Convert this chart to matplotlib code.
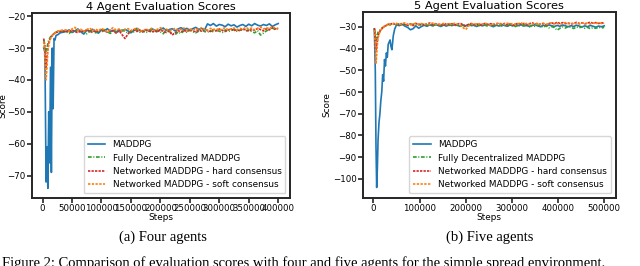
import numpy as np
import matplotlib
matplotlib.use("Agg")
import matplotlib.pyplot as plt

plt.rcParams['font.family'] = 'DejaVu Sans'
plt.rcParams['font.size'] = 6.4

labels = ['MADDPG', 'Fully Decentralized MADDPG',
          'Networked MADDPG - hard consensus', 'Networked MADDPG - soft consensus']
colors = ['#1f77b4', '#2ca02c', '#d62728', '#ff7f0e']
styles = ['-', (0, (2.2, 1.0, 0.6, 1.0)), (0, (1.4, 0.7)), (0, (1.4, 0.85))]

# ---------------- 4 agenter ----------------
steps4_early = [2000, 4000, 6000, 7500, 9000, 10500, 12000, 13500, 15000, 16500,
                18000, 19500, 21000, 23000, 26000, 30000, 35000]
steps4_late = list(range(40000, 400001, 5000))

maddpg4_early = [-30, -31, -72, -61, -74, -50, -66, -36, -69, -30, -49, -27, -27.5,
                 -26, -25.8, -25.2, -25.0]
decent4_early = [-27.5, -29, -31, -30, -28.5, -27.5, -27, -26.5, -26, -25.8, -25.5,
                 -25.5, -25.2, -25, -24.8, -24.9, -24.6]
hard4_early = [-27, -30, -36, -33, -30, -28.5, -27.5, -27, -26.5, -26, -25.8, -25.5,
               -25.3, -25.2, -24.9, -24.7, -24.8]
soft4_early = [-28, -33, -40, -36, -31, -29, -28, -27, -26.5, -26.2, -25.8, -25.5,
               -25.2, -25, -24.6, -24.5, -24.3]

maddpg4_late = [-24.8, -24.3, -25.1, -24.6, -24.0, -24.9, -25.6, -24.4, -24.7, -24.1,
                -24.9, -25.3, -24.2, -24.6, -23.9, -24.8, -24.4, -25.0, -24.3, -24.7,
                -24.1, -24.6, -25.2, -24.5, -23.8, -24.4, -24.9, -24.2, -24.6, -23.9,
                -24.3, -24.8, -24.1, -23.7, -24.5, -24.2, -23.9, -24.6, -24.0, -23.6,
                -24.2, -23.8, -24.4, -23.9, -23.5, -24.1, -23.8, -24.3,
                -22.4, -22.9, -22.3, -23.1, -22.6, -22.8, -23.3, -22.5, -23.0, -22.7,
                -23.4, -22.9, -22.6, -23.2, -22.5, -23.0, -22.3, -22.8, -23.1, -22.6,
                -22.9, -22.4, -23.2, -22.7, -22.3]
decent4_late = [-24.9, -25.4, -24.6, -25.1, -24.3, -25.0, -24.7, -25.5, -24.8, -24.4,
                -25.2, -24.6, -25.0, -24.2, -24.9, -25.4, -24.5, -24.8, -25.1, -24.3,
                -24.7, -25.3, -24.6, -24.9, -24.2, -25.0, -24.5, -25.2, -24.7, -24.4,
                -25.1, -24.6, -24.9, -25.5, -24.3, -24.8, -25.3, -25.8, -24.9, -25.4,
                -24.6, -25.0, -24.4, -24.9, -25.2, -24.7, -24.3, -24.8, -25.0, -24.5,
                -24.9, -24.4, -24.7, -25.1, -24.3, -24.8, -24.5, -24.2, -24.7, -24.4,
                -24.0, -24.6, -24.3, -24.8, -25.2, -24.5, -25.9, -25.3, -24.6, -24.1,
                -23.7, -24.2, -23.8]
hard4_late = [-24.6, -25.0, -24.3, -24.8, -25.2, -24.5, -24.9, -24.2, -24.7, -25.1,
              -24.4, -24.8, -24.1, -24.6, -25.0, -24.3, -24.7, -25.3, -24.5, -25.8,
              -27.0, -25.6, -24.6, -24.2, -24.8, -24.4, -24.9, -24.3, -24.6, -25.0,
              -24.5, -24.9, -24.3, -24.7, -25.1, -24.6, -25.9, -25.2, -24.5, -24.9,
              -24.4, -24.8, -24.2, -24.6, -24.9, -24.3, -24.7, -24.1, -24.5, -24.8,
              -24.2, -24.6, -24.0, -24.4, -24.8, -24.3, -24.0, -24.5, -24.2, -24.6,
              -23.9, -24.3, -24.7, -24.1, -24.4, -23.8, -24.2, -24.6, -23.9, -24.3,
              -23.6, -24.0, -23.8]
soft4_late = [-24.3, -24.7, -24.0, -23.5, -24.4, -24.1, -24.8, -24.2, -23.7, -24.5,
              -24.0, -24.6, -23.8, -24.3, -24.9, -24.1, -23.6, -24.4, -24.0, -24.7,
              -24.2, -23.9, -24.5, -24.1, -23.7, -24.4, -24.8, -24.0, -24.3, -23.8,
              -24.5, -24.1, -23.6, -24.3, -24.0, -24.6, -24.2, -23.8, -24.4, -24.1,
              -23.7, -24.3, -24.0, -24.5, -23.9, -24.2, -23.6, -24.1, -24.4, -23.8,
              -24.2, -23.9, -24.5, -24.0, -23.6, -24.3, -24.0, -23.7, -24.2, -23.8,
              -24.1, -23.5, -24.0, -23.7, -24.3, -23.9, -23.4, -24.0, -23.6, -23.9,
              -23.3, -23.7, -23.9]

# ---------------- 5 agenter ----------------
steps5_early = [2000, 4000, 5500, 7000, 8500, 10000, 12000, 14000, 16000, 18000,
                20000, 22000, 24000, 26000, 28000, 30000, 32000, 34000, 36000, 38000,
                40000, 43000, 46000]
steps5_late = list(range(50000, 500001, 6000))

maddpg5_early = [-31, -50, -85, -104, -95, -82, -74, -70, -64, -60, -52, -55, -45, -48,
                 -42, -44, -38, -37, -36, -39, -40.5, -34, -31]
decent5_early = [-31, -33, -36, -35, -33.5, -32.5, -32, -31.5, -31, -30.6, -30.3, -30,
                 -29.8, -29.5, -29.4, -29.2, -29.0, -28.9, -29.1, -28.8, -28.7, -28.9, -28.6]
hard5_early = [-30.5, -35, -41, -39, -36, -34, -33, -32, -31.3, -30.8, -30.4, -30.1,
               -29.7, -29.5, -29.2, -29.0, -28.8, -28.7, -28.9, -28.5, -28.6, -28.4, -28.7]
soft5_early = [-31.5, -38, -47, -43, -38, -35, -33.5, -32.3, -31.5, -30.9, -30.4, -30.0,
               -29.6, -29.3, -29.1, -28.9, -28.6, -28.8, -28.5, -28.7, -28.4, -28.6, -28.3]

maddpg5_late = [-29.0, -29.4, -28.8, -29.6, -30.2, -31.3, -30.8, -29.5, -30.6, -29.8,
                -29.2, -29.7, -29.0, -29.5, -28.9, -29.3, -29.8, -29.1, -29.6, -29.0,
                -29.4, -28.8, -29.3, -29.7, -29.1, -29.5, -28.9, -29.4, -29.2, -29.8,
                -29.0, -29.5, -29.1, -28.8, -29.4, -29.9, -29.2, -29.6, -29.0, -29.3,
                -29.7, -29.1, -29.5, -28.9, -29.4, -29.0, -29.6, -29.2, -29.8, -29.3,
                -29.0, -29.5, -29.9, -29.2, -29.6, -29.1, -29.4, -29.8, -29.3, -29.7,
                -29.1, -29.5, -29.9, -29.4, -29.8, -29.2, -29.6, -30.0, -29.5, -29.9,
                -29.3, -29.7, -30.1, -29.6, -29.9, -29.5]
decent5_late = [-29.0, -28.6, -29.3, -28.8, -29.5, -29.1, -28.7, -29.4, -28.9, -29.2,
                -28.7, -29.3, -28.9, -29.6, -29.0, -28.8, -29.4, -29.1, -28.7, -29.3,
                -29.0, -29.5, -28.9, -29.7, -29.2, -30.0, -29.3, -28.9, -29.5, -29.1,
                -29.4, -28.8, -29.2, -29.7, -29.0, -29.5, -29.1, -28.9, -29.6, -29.2,
                -29.5, -29.0, -29.4, -29.8, -29.2, -29.6, -29.0, -29.5, -29.9, -29.3,
                -29.7, -29.2, -29.6, -30.1, -29.5, -30.4, -29.8, -30.3, -31.5, -30.6,
                -30.0, -30.5, -29.8, -30.2, -30.7, -30.0, -30.4, -29.9, -30.6, -30.2,
                -30.8, -30.3, -30.6, -30.1, -30.5, -30.2]
hard5_late = [-28.5, -29.0, -28.3, -28.8, -29.2, -28.6, -29.4, -28.4, -28.9, -28.5,
              -29.1, -28.6, -28.2, -28.9, -28.5, -29.0, -28.7, -29.3, -28.4, -28.8,
              -28.5, -29.1, -28.7, -28.3, -29.0, -29.6, -28.8, -28.4, -28.9, -28.6,
              -29.2, -28.7, -28.4, -28.9, -28.5, -29.0, -28.6, -28.2, -28.8, -28.4,
              -28.9, -28.5, -29.3, -28.7, -28.3, -28.8, -28.4, -28.9, -28.5, -28.1,
              -28.7, -28.3, -28.8, -28.4, -29.0, -28.5, -28.1, -28.6, -27.8, -28.4,
              -28.0, -28.5, -28.2, -28.7, -28.3, -27.9, -28.4, -28.1, -28.6, -28.2,
              -27.8, -28.3, -28.0, -28.4, -28.1, -28.3]
soft5_late = [-28.4, -28.9, -28.5, -28.1, -28.7, -29.0, -28.6, -28.3, -28.8, -28.4,
              -28.9, -28.5, -28.8, -28.2, -28.7, -29.1, -28.6, -28.4, -28.9, -28.5,
              -28.8, -28.3, -28.7, -29.2, -30.3, -31.2, -29.6, -28.7, -28.4, -28.9,
              -28.5, -28.8, -28.3, -28.7, -29.1, -28.6, -28.4, -28.9, -28.5, -28.8,
              -28.3, -28.7, -28.4, -28.9, -28.5, -28.2, -28.7, -28.4, -28.8, -28.5,
              -28.9, -28.4, -28.7, -28.3, -28.8, -28.5, -28.1, -28.6, -28.3, -28.8,
              -28.4, -28.0, -28.5, -28.2, -28.7, -28.3, -28.6, -28.1, -28.5, -28.2,
              -28.6, -28.2, -28.5, -28.0, -28.4, -28.3]


def style_ax(ax):
    for s in ax.spines.values():
        s.set_linewidth(1.4)
        s.set_color('0.15')
    ax.tick_params(direction='out', length=3.5, width=1.2, color='0.15', pad=1,
                   labelsize=6.2)


fig = plt.figure(figsize=(6.4, 2.66), dpi=100)

# Venstre: 4 agenter
ax1 = fig.add_axes([0.050, 0.256, 0.403, 0.695])
series4 = [(maddpg4_early, maddpg4_late), (decent4_early, decent4_late),
           (hard4_early, hard4_late), (soft4_early, soft4_late)]
for (e, l), lab, c, ls in zip(series4, labels, colors, styles):
    ax1.plot(steps4_early + steps4_late, e + l, color=c, linestyle=ls, linewidth=1.2, label=lab)
ax1.set_ylim(-77, -19)
ax1.set_title('4 Agent Evaluation Scores', fontsize=8.2, pad=2)
ax1.set_xlabel('Steps', labelpad=0)
ax1.set_ylabel('Score', labelpad=0)
ax1.legend(loc='lower right', fontsize=6.4, borderpad=0.45)
style_ax(ax1)

# Højre: 5 agenter
ax2 = fig.add_axes([0.567, 0.256, 0.395, 0.699])
series5 = [(maddpg5_early, maddpg5_late), (decent5_early, decent5_late),
           (hard5_early, hard5_late), (soft5_early, soft5_late)]
for (e, l), lab, c, ls in zip(series5, labels, colors, styles):
    ax2.plot(steps5_early + steps5_late, e + l, color=c, linestyle=ls, linewidth=1.2, label=lab)
ax2.set_ylim(-108.8, -23.1)
ax2.set_title('5 Agent Evaluation Scores', fontsize=8.2, pad=2)
ax2.set_xlabel('Steps', labelpad=0)
ax2.set_ylabel('Score', labelpad=1)
ax2.legend(loc='lower right', fontsize=6.4, borderpad=0.45)
style_ax(ax2)

# Billedtekster
fig.text(163 / 640, 1 - 237 / 266, '(a) Four agents', family='Liberation Serif',
         fontsize=10.5, ha='center', va='center')
fig.text(490 / 640, 1 - 237 / 266, '(b) Five agents', family='Liberation Serif',
         fontsize=10.5, ha='center', va='center')
fig.text(2 / 640, 1 - 256 / 266,
         'Figure 2: Comparison of evaluation scores with four and five agents for the '
         'simple spread environment.', family='Liberation Serif', fontsize=10.5,
         ha='left', va='top')

fig.savefig('out.png', dpi=100)
